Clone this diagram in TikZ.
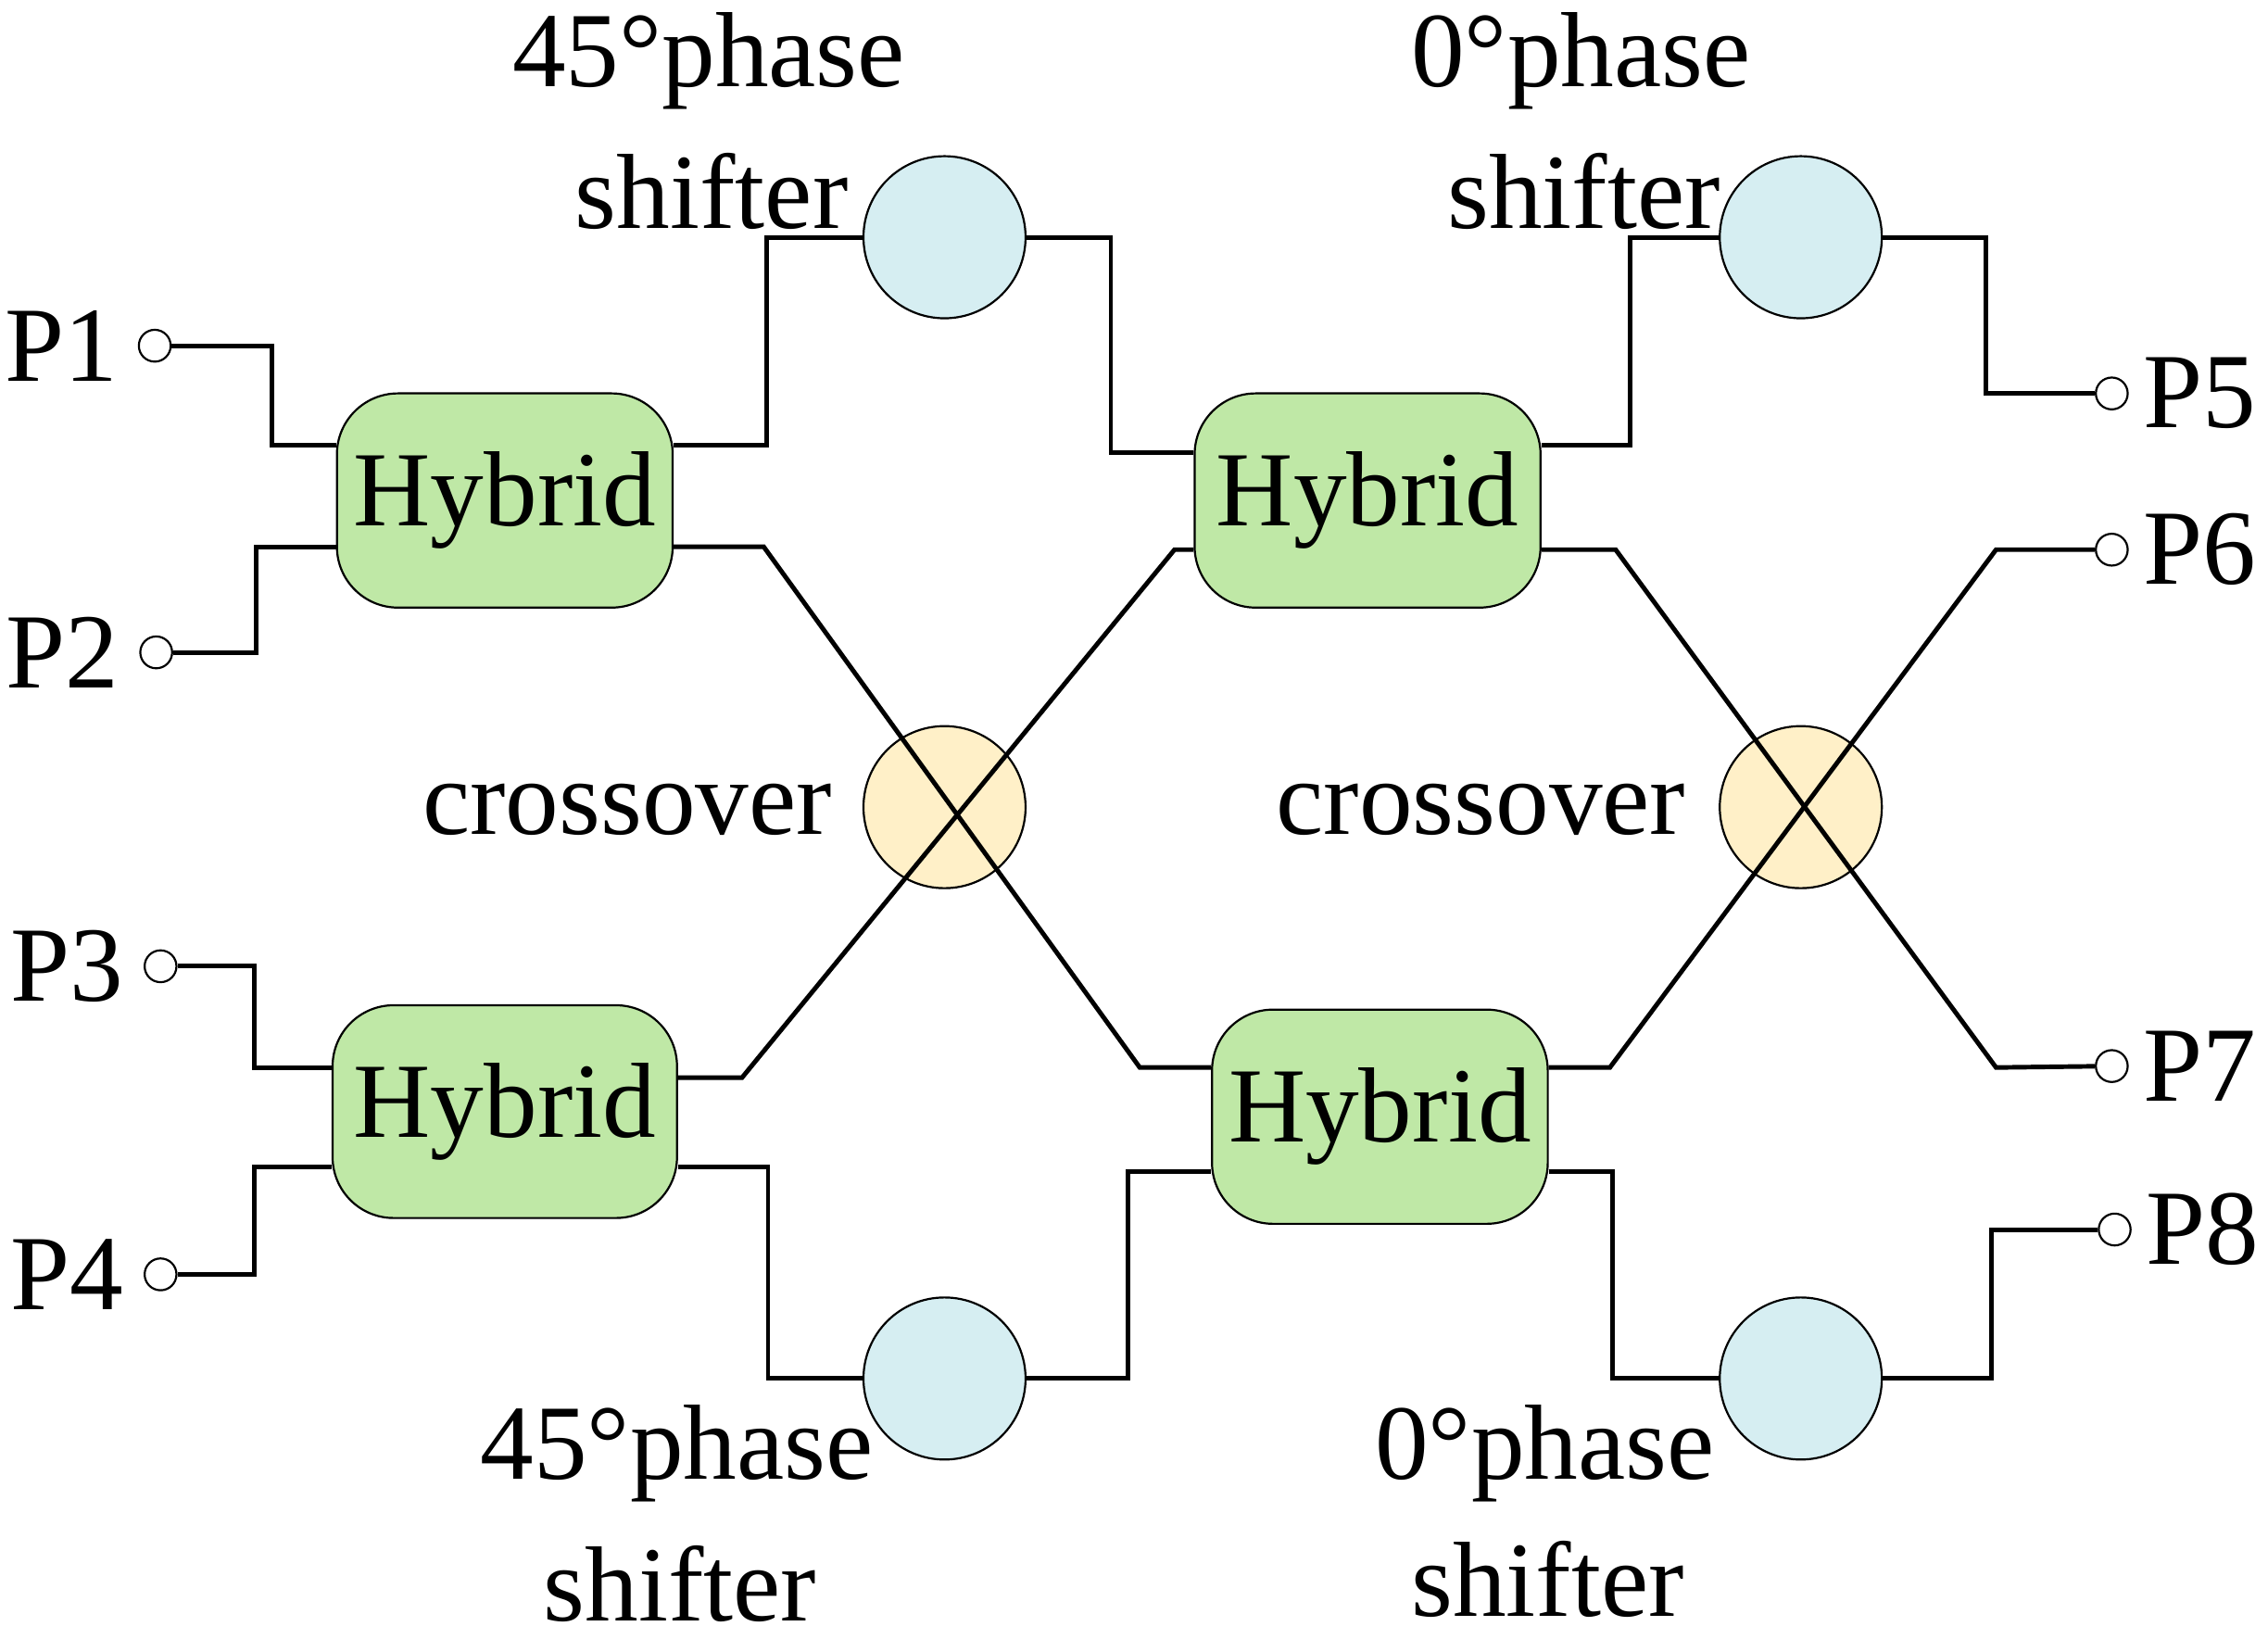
\documentclass[tikz,border=0pt]{standalone}
\usepackage{fontspec}
\setmainfont{Liberation Serif}
\begin{document}
\begin{tikzpicture}[x=0.01cm,y=-0.01cm,
  hyb/.style={draw,fill=hg,rounded corners=12pt,inner sep=0pt,font=\fontsize{21}{25}\selectfont},
  ps/.style={draw,circle,fill=pb,minimum size=112\pgflinewidth,inner sep=0pt},
  port/.style={draw,circle,fill=white,inner sep=0pt,minimum size=0.22cm},
  lab/.style={font=\fontsize{21}{25}\selectfont,inner sep=0pt},
  w/.style={line width=0.9pt}]
\definecolor{hg}{HTML}{BFE8A6}
\definecolor{pb}{HTML}{D6EEF2}
\definecolor{cy}{HTML}{FFF0C8}
\useasboundingbox (0,0) rectangle (1568,1133);
% hybrids
\node[hyb,minimum width=2.32cm,minimum height=1.48cm] (H1) at (349,346) {Hybrid};
\node[hyb,minimum width=2.39cm,minimum height=1.48cm] (H2) at (945.5,346) {Hybrid};
\node[hyb,minimum width=2.38cm,minimum height=1.47cm] (H3) at (349,768.5) {Hybrid};
\node[hyb,minimum width=2.32cm,minimum height=1.48cm] (H4) at (954,772) {Hybrid};
% circles
\foreach \n/\x/\y/\c in {S1/653/164/pb,S2/1245/164/pb,S3/653/953/pb,S4/1245/953/pb,C1/653/558/cy,C2/1245/558/cy}
  \node[draw,circle,fill=\c,minimum size=1.12cm,inner sep=0pt] (\n) at (\x,\y) {};
% ports
\foreach \n/\x/\y in {p1/107/239,p2/108/451,p3/111/668,p4/111/881,p5/1460/272,p6/1460/380,p7/1460/737,p8/1462/850}
  \node[port] (\n) at (\x,\y) {};
% port labels
\node[lab,anchor=east] at (82,239) {P1};
\node[lab,anchor=east] at (83,451) {P2};
\node[lab,anchor=east] at (86,668) {P3};
\node[lab,anchor=east] at (86,881) {P4};
\node[lab,anchor=west] at (1481,272) {P5};
\node[lab,anchor=west] at (1481,380) {P6};
\node[lab,anchor=west] at (1481,737) {P7};
\node[lab,anchor=west] at (1483,850) {P8};
% text labels
\node[lab] at (490,42) {45°phase};
\node[lab] at (492,132) {shifter};
\node[lab] at (1093,42) {0°phase};
\node[lab] at (1095,132) {shifter};
\node[lab] at (468,1005) {45°phase};
\node[lab] at (470,1095) {shifter};
\node[lab] at (1068,1005) {0°phase};
\node[lab] at (1070,1092) {shifter};
\node[lab,anchor=east] at (576,560) {crossover};
\node[lab,anchor=east] at (1166,560) {crossover};
% connectors
\draw[w] (p1) -- (188,239) |- (H1.west |- 0,308);
\draw[w] (p2) -- (177,451) |- (H1.west |- 0,378);
\draw[w] (H1.east |- 0,308) -| (530,164) -- (S1);
\draw[w] (S1) -| (768,313) -- (H2.west |- 0,313);
\draw[w] (H1.east |- 0,378) -- (528,378) -- (788,738) -- (H4.west |- 0,738);
\draw[w] (H3.east |- 0,745) -- (513,745) -- (812,380) -- (H2.west |- 0,380);
\draw[w] (p3) -- (176,668) |- (H3.west |- 0,738);
\draw[w] (p4) -- (176,881) |- (H3.west |- 0,807);
\draw[w] (H3.east |- 0,807) -| (531,953) -- (S3);
\draw[w] (S3) -| (780,810) -- (H4.west |- 0,810);
\draw[w] (H2.east |- 0,308) -| (1127,164) -- (S2);
\draw[w] (S2) -| (1373,272) -- (p5);
\draw[w] (H2.east |- 0,380) -- (1117,380) -- (1380,738) -- (p7);
\draw[w] (H4.east |- 0,738) -- (1113,738) -- (1380,380) -- (p6);
\draw[w] (H4.east |- 0,810) -| (1115,953) -- (S4);
\draw[w] (S4) -| (1377,850) -- (p8);
\end{tikzpicture}
\end{document}
